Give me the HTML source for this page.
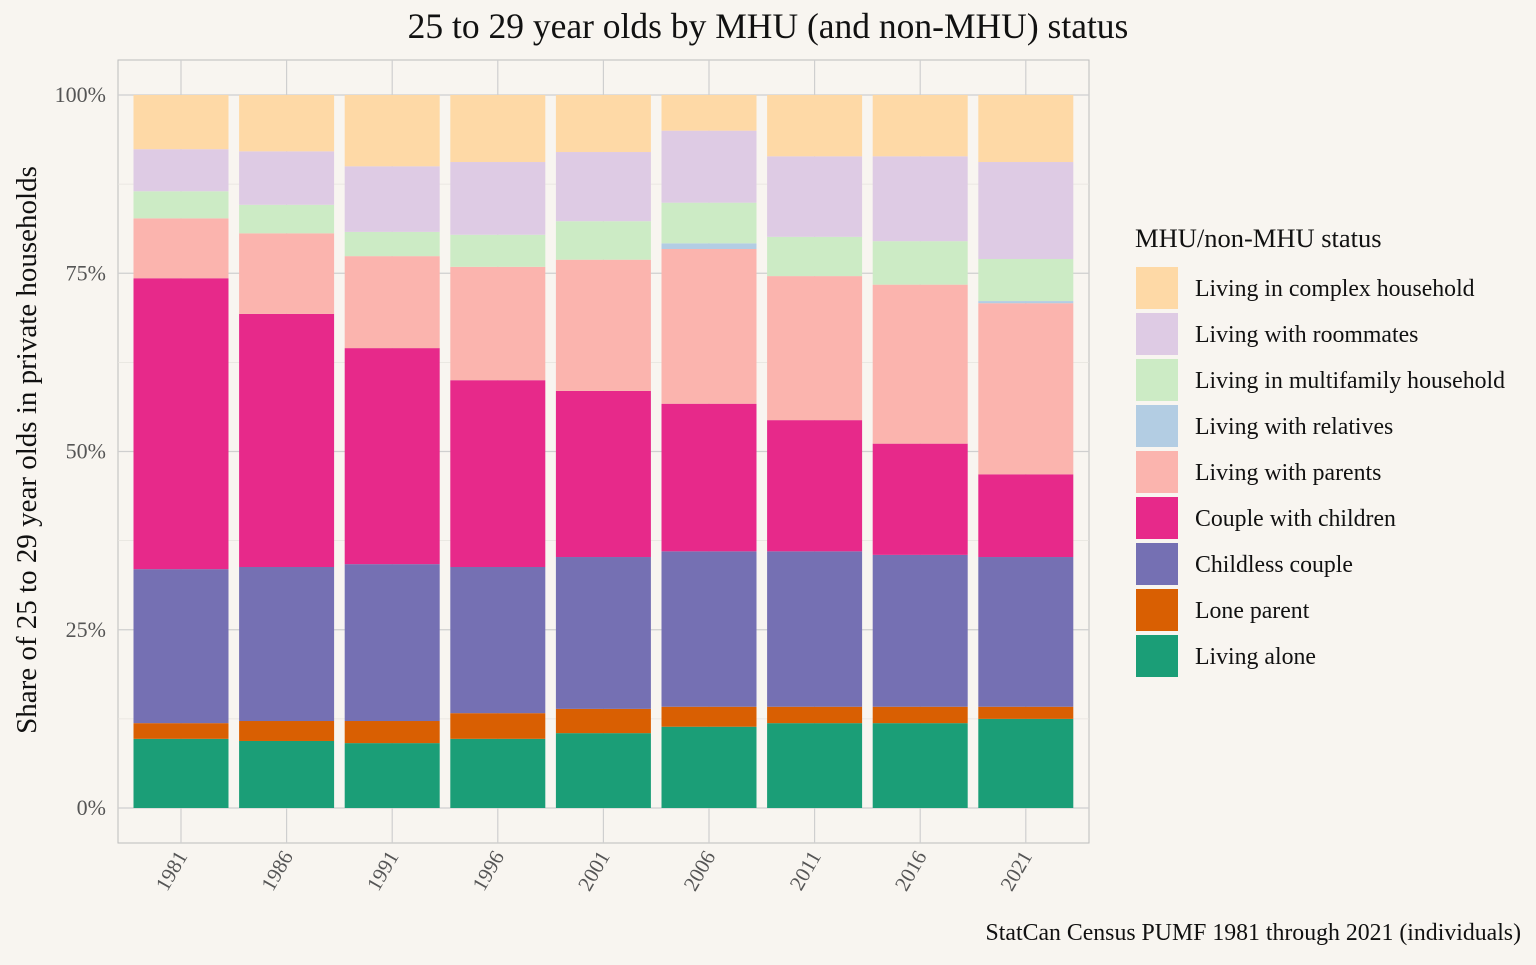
<!DOCTYPE html>
<html><head><meta charset="utf-8"><style>
body{margin:0;background:#f8f5f0;}
svg text{font-family:"Liberation Serif",serif;}
</style></head><body>
<svg id="c" width="1536" height="960" xmlns="http://www.w3.org/2000/svg">
<rect width="1536" height="960" fill="#f8f5f0"/>
</svg>
<script>
const years=["1981","1986","1991","1996","2001","2006","2011","2016","2021"];
const categories=["Living alone","Lone parent","Childless couple","Couple with children","Living with parents","Living with relatives","Living in multifamily household","Living with roommates","Living in complex household"];
const colors=["#1b9e77","#d95f02","#7570b3","#e7298a","#fbb4ae","#b3cde3","#ccebc5","#decbe4","#fed9a6"];
const livingAlone=[9.7,9.4,9.1,9.7,10.5,11.4,11.9,11.9,12.5];
const loneParent=[2.2,2.8,3.1,3.6,3.4,2.8,2.3,2.3,1.7];
const childlessCouple=[21.6,21.6,22.0,20.5,21.3,21.8,21.8,21.3,21.0];
const coupleWithChildren=[40.8,35.5,30.3,26.2,23.3,20.7,18.4,15.6,11.6];
const withParents=[8.4,11.3,12.9,15.9,18.4,21.7,20.2,22.3,24.0];
const withRelatives=[0,0,0,0,0,0.8,0,0,0.3];
const multifamily=[3.8,4.0,3.4,4.5,5.4,5.7,5.5,6.1,5.9];
const roommates=[5.9,7.5,9.2,10.2,9.7,10.1,11.3,11.9,13.6];
const complexHh=[7.6,7.9,10.0,9.4,8.0,5.0,8.6,8.6,9.4];
const series=[livingAlone,loneParent,childlessCouple,coupleWithChildren,withParents,withRelatives,multifamily,roommates,complexHh];
const yTicks=[0,25,50,75,100];
const NS="http://www.w3.org/2000/svg";
const svg=document.getElementById('c');
function el(t,a,p){const e=document.createElementNS(NS,t);for(const k in a)e.setAttribute(k,a[k]);(p||svg).appendChild(e);return e;}
const L=118,R=1089,T=60,B=843;
const y=v=>808-v*(808-95)/100;
const x=i=>181+i*105.6;
const bw=95;
const panel=el('rect',{x:L,y:T,width:R-L,height:B-T,fill:'#f8f5f0',stroke:'#bdbdbd','stroke-width':1});


for(let v=12.5;v<100;v+=25){el('line',{x1:L,x2:R,y1:y(v),y2:y(v),stroke:'#e6e3de','stroke-width':0.7});}
yTicks.forEach(v=>{
 el('line',{x1:L,x2:R,y1:y(v),y2:y(v),stroke:'#cfcfcf','stroke-width':1.2});
 const t=el('text',{x:106,y:y(v)+7,'text-anchor':'end','font-size':22,fill:'#555'});t.textContent=v+'%';
 
 
});
years.forEach((yr,i)=>{
 el('line',{x1:x(i),x2:x(i),y1:T,y2:B,stroke:'#cfcfcf','stroke-width':1.2});
});
years.forEach((yr,i)=>{
 let cum=0;
 series.forEach((s,k)=>{
  const v=s[i];
  if(v>0){
   const r=el('rect',{x:x(i)-bw/2,y:y(cum+v),width:bw,height:y(cum)-y(cum+v),fill:colors[k]});
   
   
  }
  cum+=v;
 });
 const t=el('text',{transform:`translate(${x(i)+7},${856}) rotate(-60)`,'text-anchor':'end','font-size':21,fill:'#555'});t.textContent=yr;
 
 
});
const title=el('text',{x:768,y:38,'text-anchor':'middle','font-size':35.5,fill:'#111'});title.textContent='25 to 29 year olds by MHU (and non-MHU) status';


const yl=el('text',{transform:'translate(36,450) rotate(-90)','text-anchor':'middle','font-size':29,fill:'#111'});yl.textContent='Share of 25 to 29 year olds in private households';


const cap=el('text',{x:1521,y:940,'text-anchor':'end','font-size':23.8,fill:'#111'});cap.textContent='StatCan Census PUMF 1981 through 2021 (individuals)';


const lt=el('text',{x:1135,y:247,'font-size':26.5,fill:'#111'});lt.textContent='MHU/non-MHU status';


for(let j=0;j<9;j++){
 const k=8-j;const yy=267+j*46;
 const g=el('g',{});
 
 
 el('rect',{x:1136,y:yy,width:42,height:42,fill:colors[k]},g);
 const t=el('text',{x:1195,y:yy+29,'font-size':23.8,fill:'#111'},g);t.textContent=categories[k];
}
</script>
</body></html>
